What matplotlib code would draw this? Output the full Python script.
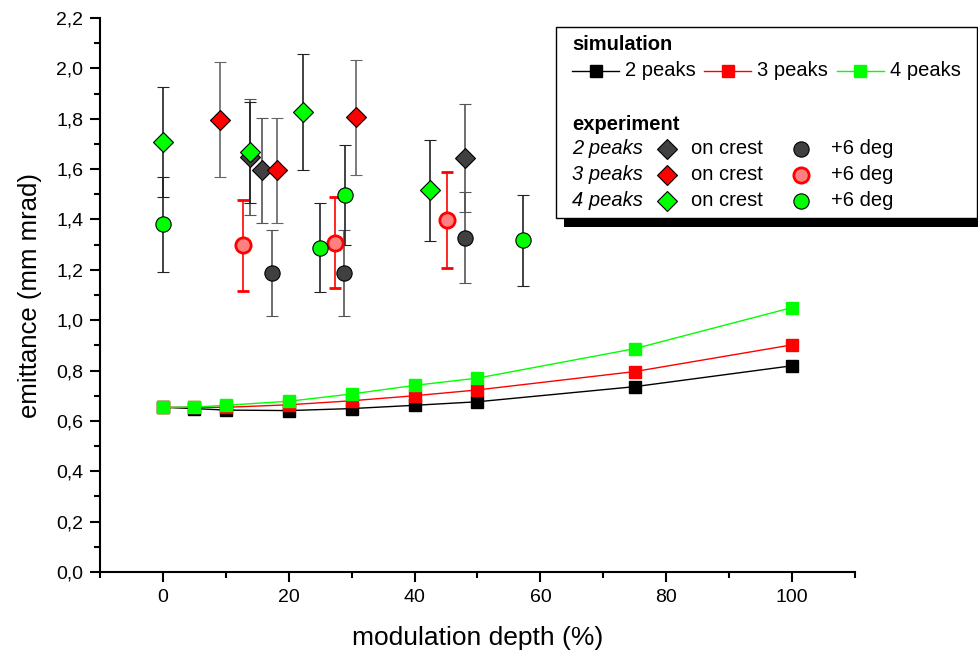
import numpy as np
import matplotlib
matplotlib.use("Agg")
import matplotlib.pyplot as plt
from matplotlib.patches import Rectangle
from matplotlib.lines import Line2D
from matplotlib.ticker import MultipleLocator, FuncFormatter

plt.rcParams['font.family'] = 'Liberation Sans'

# simulated emittance vs modulation depth
sim_depth = [0, 5, 10, 20, 30, 40, 50, 75, 100]
sim_2peaks = [0.654, 0.649, 0.643, 0.641, 0.649, 0.662, 0.676, 0.736, 0.819]
sim_3peaks = [0.654, 0.654, 0.654, 0.664, 0.680, 0.700, 0.723, 0.796, 0.902]
sim_4peaks = [0.654, 0.655, 0.662, 0.678, 0.707, 0.741, 0.770, 0.887, 1.050]

# measured emittance (on crest / +6 deg), with error bars
exp2_crest_x = [13.8, 15.8, 48.0]
exp2_crest_y = [1.648, 1.595, 1.644]
exp2_crest_err = [0.232, 0.208, 0.213]
exp2_off_x = [17.3, 28.8, 48.0]
exp2_off_y = [1.187, 1.187, 1.328]
exp2_off_err = [0.170, 0.170, 0.182]

exp3_crest_x = [9.0, 18.1, 30.7]
exp3_crest_y = [1.796, 1.595, 1.805]
exp3_crest_err = [0.228, 0.208, 0.230]
exp3_off_x = [12.8, 27.4, 45.1]
exp3_off_y = [1.297, 1.308, 1.398]
exp3_off_err = [0.180, 0.180, 0.190]

exp4_crest_x = [0.0, 13.8, 22.2, 42.4]
exp4_crest_y = [1.708, 1.667, 1.827, 1.516]
exp4_crest_err = [0.218, 0.200, 0.230, 0.201]
exp4_off_x = [0.0, 25.0, 29.0, 57.2]
exp4_off_y = [1.380, 1.288, 1.497, 1.317]
exp4_off_err = [0.190, 0.178, 0.198, 0.181]

DGRAY = '#404040'
RED = '#ff0000'
LRED = '#ff8080'
GREEN = '#00ff00'
D_MS = 10
O_MS = 11

W, H = 979, 658
fig = plt.figure(figsize=(W / 100, H / 100), dpi=100)
ax = fig.add_axes([100 / W, 1 - 572 / H, 755 / W, 554 / H])

# simulation curves
for y, c in [(sim_2peaks, 'black'), (sim_3peaks, RED), (sim_4peaks, GREEN)]:
    ax.plot(sim_depth, y, color=c, lw=1.0, marker='s', ms=8.5, mec=c, zorder=3)

# experiment points
eb = dict(ls='none', elinewidth=1.2, capsize=4.5, capthick=1.2, zorder=4)
ax.errorbar(exp2_crest_x, exp2_crest_y, yerr=exp2_crest_err, fmt='D', ms=D_MS,
            mfc=DGRAY, mec='black', mew=0.8, ecolor='#555555', **eb)
ax.errorbar(exp2_off_x, exp2_off_y, yerr=exp2_off_err, fmt='o', ms=O_MS,
            mfc=DGRAY, mec='black', mew=0.8, ecolor='#555555', **eb)
ax.errorbar(exp3_crest_x, exp3_crest_y, yerr=exp3_crest_err, fmt='D', ms=D_MS,
            mfc=RED, mec='black', mew=0.8, ecolor='#666666', **eb)
ax.errorbar(exp3_off_x, exp3_off_y, yerr=exp3_off_err, fmt='o', ms=O_MS,
            mfc=LRED, mec=RED, mew=2.0, ecolor=RED, **eb)
ax.errorbar(exp4_crest_x, exp4_crest_y, yerr=exp4_crest_err, fmt='D', ms=D_MS,
            mfc=GREEN, mec='black', mew=0.8, ecolor='#222222', **eb)
ax.errorbar(exp4_off_x, exp4_off_y, yerr=exp4_off_err, fmt='o', ms=O_MS,
            mfc=GREEN, mec='black', mew=0.8, ecolor='#222222', **eb)

ax.set_xlim(-10, 110)
ax.set_ylim(0, 2.2)
ax.xaxis.set_major_locator(MultipleLocator(20))
ax.xaxis.set_minor_locator(MultipleLocator(10))
ax.yaxis.set_major_locator(MultipleLocator(0.2))
ax.yaxis.set_minor_locator(MultipleLocator(0.1))
ax.yaxis.set_major_formatter(FuncFormatter(lambda v, p: f'{v:.1f}'.replace('.', ',')))
for s in ['top', 'right']:
    ax.spines[s].set_visible(False)
for s in ['left', 'bottom']:
    ax.spines[s].set_linewidth(1.5)
ax.tick_params(which='major', direction='out', length=7, width=1.5, labelsize=14, pad=5)
ax.tick_params(which='minor', direction='out', length=4, width=1.5)
ax.set_xlabel('modulation depth (%)', fontsize=19, labelpad=15)
ax.set_ylabel('emittance (mm mrad)', fontsize=18.5, labelpad=10)


# legend box, drawn in pixel coordinates
def fx(x):
    return x / W


def fy(y):
    return 1 - y / H


tf = fig.transFigure
fig.patches.append(Rectangle((fx(564), fy(227)), fx(420), 191 / H, transform=tf,
                             facecolor='black', edgecolor='none', zorder=5))
fig.patches.append(Rectangle((fx(556), fy(218)), fx(421), 191 / H, transform=tf,
                             facecolor='white', edgecolor='black', lw=1.0, zorder=6))

fs = 14.5
fig.text(fx(572), fy(45), 'simulation', fontsize=fs, fontweight='bold',
         va='center', ha='left', zorder=7)
for x0, c, lab in [(572, 'black', '2 peaks'), (704, RED, '3 peaks'), (837, GREEN, '4 peaks')]:
    fig.lines.append(Line2D([fx(x0), fx(x0 + 47)], [fy(71), fy(71)], transform=tf,
                            color=c, lw=1.0, zorder=7))
    fig.lines.append(Line2D([fx(x0 + 23.5)], [fy(71)], transform=tf, marker='s', ms=8.5,
                            color=c, mec=c, ls='none', zorder=8))
    fig.text(fx(x0 + 53), fy(71), lab, fontsize=fs, va='center', ha='left', zorder=7)

fig.text(fx(572), fy(124), 'experiment', fontsize=fs, fontweight='bold',
         va='center', ha='left', zorder=7)
rows = [('2 peaks', DGRAY, DGRAY, 'black', 0.8),
        ('3 peaks', RED, LRED, RED, 2.0),
        ('4 peaks', GREEN, GREEN, 'black', 0.8)]
for (lab, dcol, ccol, cedge, cmew), yy in zip(rows, [149, 175, 201]):
    fig.text(fx(572), fy(yy), lab, fontsize=fs, style='italic', va='center', ha='left', zorder=7)
    fig.lines.append(Line2D([fx(667)], [fy(yy)], transform=tf, marker='D', ms=D_MS,
                            mfc=dcol, mec='black', mew=0.8, ls='none', zorder=8))
    fig.text(fx(691), fy(yy), 'on crest', fontsize=fs, va='center', ha='left', zorder=7)
    fig.lines.append(Line2D([fx(801)], [fy(yy)], transform=tf, marker='o', ms=O_MS,
                            mfc=ccol, mec=cedge, mew=cmew, ls='none', zorder=8))
    fig.text(fx(831), fy(yy), '+6 deg', fontsize=fs, va='center', ha='left', zorder=7)

fig.savefig('out.png', dpi=100)
